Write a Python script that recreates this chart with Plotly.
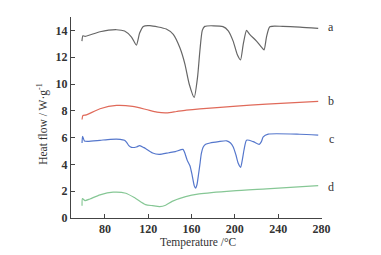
import plotly.graph_objects as go

# Curve a
a_T = [58.7, 59.6, 61.6, 75.4, 90.7, 98.1, 104.5, 109.0, 112.0, 115.4, 121.5, 136.6, 143.1,
       149.2, 153.8, 157.8, 162.4, 165.5, 167.7, 169.9, 172.2, 189.0, 193.9, 198.4, 202.2,
       205.2, 207.8, 210.8, 213.7, 220.0, 224.6, 227.0, 229.2, 232.3, 244.3, 260.1, 277.0]
a_Y = [13.2, 13.6, 13.55, 13.9, 14.05, 13.95, 13.5, 12.9, 13.8, 14.3, 14.35, 14.1, 13.7,
       12.7, 11.5, 10.0, 9.0, 10.5, 12.5, 14.0, 14.3, 14.28, 13.97, 13.2, 12.2,
       11.8, 13.0, 14.0, 13.7, 13.2, 12.75, 12.55, 13.5, 14.28, 14.3, 14.25, 14.15]

# Curve b
b_T = [58.8, 59.6, 62.8, 75.4, 90.7, 105.5, 118.0, 128.0, 137.0, 146.0, 155.0, 167.7, 198.4, 229.2, 277.0]
b_Y = [7.35, 7.65, 7.7, 8.15, 8.4, 8.33, 8.1, 7.9, 7.85, 7.95, 8.05, 8.15, 8.33, 8.5, 8.7]

# Curve c
c_T = [58.8, 59.3, 61.0, 64.0, 75.4, 85.0, 94.0, 98.0, 100.0, 102.0, 104.5, 109.0, 112.0,
       116.0, 118.0, 124.0, 130.0, 139.0, 145.0, 152.0, 153.5, 156.0, 158.5, 160.5, 162.5,
       163.7, 165.0, 166.5, 167.7, 169.0, 170.8, 173.0, 177.0, 185.0, 192.4, 196.0, 198.5,
       201.0, 203.1, 205.3, 207.0, 208.5, 210.8, 216.9, 222.5, 224.5, 226.2, 230.8, 260.0, 277.0]
c_Y = [5.6, 6.1, 5.75, 5.72, 5.8, 5.87, 5.87, 5.8, 5.65, 5.4, 5.27, 5.3, 5.4,
       5.25, 5.15, 4.85, 4.75, 4.87, 4.95, 5.12, 4.9, 4.3, 3.9, 3.2, 2.4,
       2.23, 2.5, 3.3, 4.0, 4.8, 5.3, 5.5, 5.6, 5.7, 5.76, 5.6, 5.3,
       4.7, 4.08, 3.78, 4.4, 5.1, 5.81, 5.7, 5.5, 5.7, 6.06, 6.26, 6.25, 6.18]

# Curve d
d_T = [58.8, 59.2, 61.6, 66.0, 75.4, 87.5, 99.3, 108.0, 117.5, 124.0, 130.5, 136.0, 142.0,
       154.5, 167.0, 198.4, 229.2, 277.0]
d_Y = [0.92, 1.45, 1.3, 1.42, 1.73, 1.93, 1.85, 1.48, 1.0, 0.92, 0.85, 0.95, 1.24,
       1.6, 1.8, 2.03, 2.18, 2.42]

labels = ["a", "b", "c", "d"]
label_y = [14.25, 8.75, 5.92, 2.3]
colors = ["#666666", "#e06a5a", "#5577cc", "#86c795"]

x_ticks = [80, 120, 160, 200, 240, 280]
y_ticks = [0, 2, 4, 6, 8, 10, 12, 14]

x_title = "Temperature /°C"
y_title = "Heat flow / W·g<sup>-1</sup>"

fig = go.Figure()
for T, Y, col in zip([a_T, b_T, c_T, d_T], [a_Y, b_Y, c_Y, d_Y], colors):
    fig.add_trace(go.Scatter(x=T, y=Y, mode="lines",
                             line=dict(color=col, width=1.2, shape="spline", smoothing=0.6),
                             showlegend=False, hoverinfo="skip"))

for lab, ly in zip(labels, label_y):
    fig.add_annotation(x=1.036, y=ly, xref="paper", yref="y", text=lab, showarrow=False,
                       xanchor="center", yanchor="middle",
                       font=dict(family="Liberation Serif", size=12, color="#333"))

fig.add_annotation(x=0.506, y=-0.124, xref="paper", yref="paper", text=x_title,
                   showarrow=False, xanchor="center", yanchor="middle",
                   font=dict(family="Liberation Serif", size=11.5, color="#333"))
fig.add_annotation(x=-0.112, y=0.468, xref="paper", yref="paper", text=y_title,
                   showarrow=False, xanchor="center", yanchor="middle", textangle=-90,
                   font=dict(family="Liberation Serif", size=11.5, color="#333"))

# page body has an 8px default margin, so the figure is sized/offset to compensate
fig.update_layout(
    width=373, height=247,
    margin=dict(l=63, r=59, t=9, b=37),
    paper_bgcolor="white", plot_bgcolor="white",
    font=dict(family="Liberation Serif", size=12, color="#333"),
    xaxis=dict(range=[48.6, 280.5], tickvals=x_ticks, ticks="inside", ticklen=4,
               showline=True, linecolor="#444", linewidth=1, showgrid=False, zeroline=False,
               tickfont=dict(size=12, weight="bold")),
    yaxis=dict(range=[0, 15], tickvals=y_ticks, ticks="inside", ticklen=4,
               showline=True, linecolor="#444", linewidth=1, showgrid=False, zeroline=False,
               tickfont=dict(size=12, weight="bold")),
)

fig.write_html("out.html")
